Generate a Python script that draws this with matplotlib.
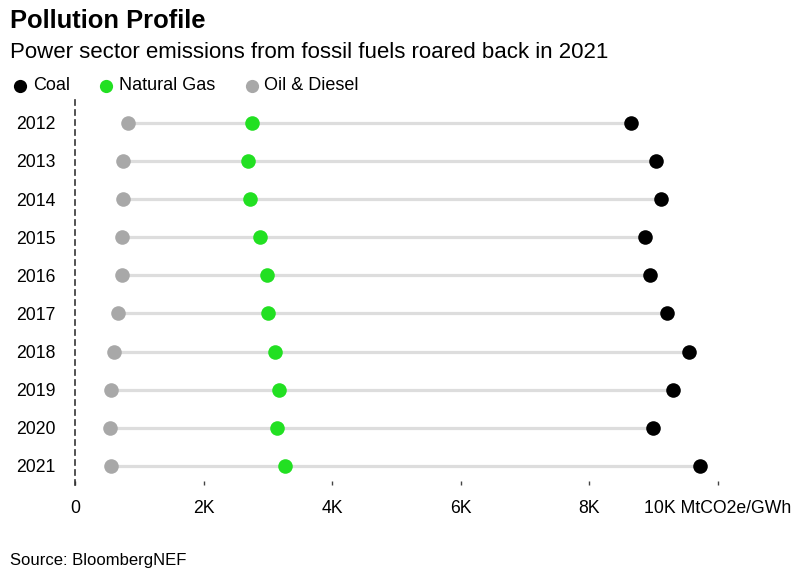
import matplotlib.pyplot as plt
from matplotlib.lines import Line2D
import numpy as np

plt.rcParams['font.family'] = ['Liberation Sans', 'DejaVu Sans']

years = ['2012', '2013', '2014', '2015', '2016', '2017', '2018', '2019', '2020', '2021']
# emissions intensity, thousands
coal = [8.65, 9.04, 9.11, 8.87, 8.94, 9.21, 9.55, 9.30, 9.00, 9.73]
gas = [2.75, 2.69, 2.73, 2.88, 2.98, 3.01, 3.11, 3.18, 3.14, 3.26]
oil = [0.82, 0.75, 0.75, 0.73, 0.73, 0.67, 0.61, 0.56, 0.54, 0.56]
xticks = [0, 2, 4, 6, 8, 10]
xlabels = ['0', '2K', '4K', '6K', '8K', '10K MtCO2e/GWh']

c_coal = '#000000'
c_gas = '#22e022'
c_oil = '#a8a8a8'

W, H = 809, 582
fig = plt.figure(figsize=(W / 100, H / 100), dpi=100)
ax = fig.add_axes([75 / W, 1 - 485 / H, 707 / W, 385 / H])

ypos = np.arange(len(years))
ax.hlines(ypos, oil, coal, color='#dddddd', lw=2.3, zorder=1)
ax.scatter(oil, ypos, s=110, color=c_oil, zorder=3, linewidths=0)
ax.scatter(gas, ypos, s=110, color=c_gas, zorder=3, linewidths=0)
ax.scatter(coal, ypos, s=110, color=c_coal, zorder=3, linewidths=0)

ax.set_xlim(0, 11)
ax.set_ylim(9.5, -0.6)
ax.set_yticks(ypos)
ax.set_yticklabels(years, fontsize=12.7)
ax.set_xticks(xticks)
ax.set_xticklabels(xlabels, fontsize=12.7)
ax.tick_params(axis='y', length=0, pad=14)
ax.tick_params(axis='x', direction='in', length=3, width=1, color='#444444', pad=11)

for s in ['top', 'right', 'bottom']:
    ax.spines[s].set_visible(False)
ax.spines['left'].set_linestyle((0, (3, 3)))
ax.spines['left'].set_color('#333333')
ax.spines['left'].set_linewidth(1.2)
ax.spines['left'].set_bounds(-0.6, 9.58)

# title block
fig.text(10 / W, 1 - 21 / H, 'Pollution Profile', fontsize=18.4, fontweight='bold', va='center')
fig.text(10 / W, 1 - 53 / H, 'Power sector emissions from fossil fuels roared back in 2021',
         fontsize=16, va='center')

# legend
for xd, xt, col, lab in [(20, 33, c_coal, 'Coal'), (106, 119, c_gas, 'Natural Gas'),
                         (252, 264, c_oil, 'Oil & Diesel')]:
    fig.add_artist(Line2D([xd / W], [1 - 86 / H], marker='o', markersize=9.5, color=col,
                          markeredgewidth=0, transform=fig.transFigure))
    fig.text(xt / W, 1 - 86 / H, lab, fontsize=13, va='center')

fig.text(10 / W, 1 - 560 / H, 'Source: BloombergNEF', fontsize=12, va='center')

fig.savefig('out.png', dpi=100)
